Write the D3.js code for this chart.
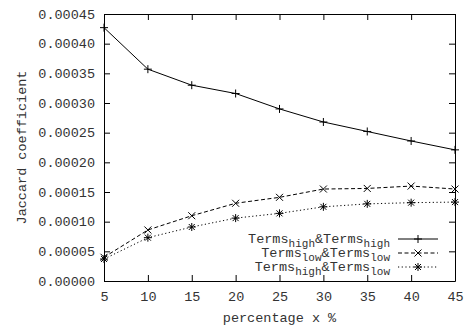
<!DOCTYPE html>
<html>
<head>
<meta charset="utf-8">
<script src="https://cdn.jsdelivr.net/npm/d3@7"></script>
<style>
  body { margin: 0; background: #fff; }
  svg text { font-family: "Liberation Mono", "DejaVu Sans Mono", monospace; fill: #333; }
</style>
</head>
<body>
<svg id="chart" width="468" height="326"></svg>
<script>
// data
const percentages = [5, 10, 15, 20, 25, 30, 35, 40, 45];
const highHigh = [0.000427, 0.000357, 0.000330, 0.000316, 0.000290, 0.000268, 0.000252, 0.000236, 0.000221];
const lowLow   = [0.000040, 0.000086, 0.000110, 0.000131, 0.000141, 0.000155, 0.000156, 0.000160, 0.000155];
const highLow  = [0.000037, 0.000073, 0.000091, 0.000106, 0.000114, 0.000125, 0.000130, 0.000132, 0.000133];
const yTicks = [0, 0.00005, 0.0001, 0.00015, 0.0002, 0.00025, 0.0003, 0.00035, 0.0004, 0.00045];
const seriesNames = [
  ["high", "high"],
  ["low", "low"],
  ["high", "low"]
];

const margin = { left: 104, right: 13, top: 14, bottom: 45 };
const W = 468, H = 326;

const svg = d3.select("#chart");

let x = d3.scaleLinear()
  .domain([5, 45])
  .range([margin.left, W - margin.right]);
let y = d3.scaleLinear()
  .domain([0, 0.00045])
  .range([H - margin.bottom, margin.top]);

const fmt = d3.format(".5f");

// axes, ticks pointing inward like gnuplot
svg.append("g")
  .attr("transform", `translate(0,${y(0)})`)
  .call(d3.axisBottom(x).tickValues(percentages).tickSizeInner(-6).tickSizeOuter(0).tickPadding(10))
  .call(g => g.selectAll("text").style("font-size", "13.5px"));
svg.append("g")
  .attr("transform", `translate(0,${y(0.00045)})`)
  .call(d3.axisTop(x).tickValues(percentages).tickSizeInner(-6).tickSizeOuter(0).tickFormat(""));
svg.append("g")
  .attr("transform", `translate(${x(5)},0)`)
  .call(d3.axisLeft(y).tickValues(yTicks).tickFormat(fmt).tickSizeInner(-6).tickSizeOuter(0).tickPadding(9))
  .call(g => g.selectAll("text").style("font-size", "13.5px"));
svg.append("g")
  .attr("transform", `translate(${x(45)},0)`)
  .call(d3.axisRight(y).tickValues(yTicks).tickSizeInner(-6).tickSizeOuter(0).tickFormat(""));
svg.selectAll(".domain").attr("stroke", "#000");
svg.selectAll(".tick line").attr("stroke", "#000");

// axis titles
svg.append("text")
  .attr("transform", `translate(26,${(y(0) + y(0.00045)) / 2}) rotate(-90)`)
  .attr("text-anchor", "middle")
  .style("font-size", "13.5px")
  .text("Jaccard coefficient");
svg.append("text")
  .attr("x", (x(5) + x(45)) / 2)
  .attr("y", 322)
  .attr("text-anchor", "middle")
  .style("font-size", "13.5px")
  .text("percentage x %");

const line = d3.line()
  .x((d, i) => x(percentages[i]))
  .y(d => y(d));

const styles = [
  { data: highHigh, dash: null, marker: "plus" },
  { data: lowLow, dash: "4,2.5", marker: "cross" },
  { data: highLow, dash: "1.2,2.5", marker: "star" }
];

function drawMarker(g, type, cx, cy) {
  const s = 4;
  const p = d3.path();
  if (type === "plus" || type === "star") {
    p.moveTo(cx - s, cy); p.lineTo(cx + s, cy);
    p.moveTo(cx, cy - s); p.lineTo(cx, cy + s);
  }
  if (type === "cross" || type === "star") {
    const t = type === "star" ? 3 : 3.5;
    p.moveTo(cx - t, cy - t); p.lineTo(cx + t, cy + t);
    p.moveTo(cx - t, cy + t); p.lineTo(cx + t, cy - t);
  }
  g.append("path").attr("d", p.toString())
    .attr("stroke", "#000").attr("stroke-width", 1).attr("fill", "none");
}

styles.forEach(st => {
  svg.append("path")
    .datum(st.data)
    .attr("d", line)
    .attr("fill", "none")
    .attr("stroke", "#000")
    .attr("stroke-width", 1)
    .attr("stroke-dasharray", st.dash);
  const mg = svg.append("g");
  st.data.forEach((v, i) => drawMarker(mg, st.marker, x(percentages[i]), y(v)));
});

// legend
const legend = svg.append("g");
const rowY = [239, 253, 267];
styles.forEach((st, i) => {
  const t = legend.append("text")
    .attr("x", 390)
    .attr("y", rowY[i] + 4)
    .attr("text-anchor", "end")
    .style("font-size", "13.5px");
  t.append("tspan").text("Terms");
  t.append("tspan").attr("dy", 4).style("font-size", "11px").text(seriesNames[i][0]);
  t.append("tspan").attr("dy", -4).text("&Terms");
  t.append("tspan").attr("dy", 4).style("font-size", "11px").text(seriesNames[i][1]);
  legend.append("line")
    .attr("x1", 398).attr("x2", 438)
    .attr("y1", rowY[i]).attr("y2", rowY[i])
    .attr("stroke", "#000")
    .attr("stroke-width", 1)
    .attr("stroke-dasharray", st.dash);
  drawMarker(legend, st.marker, 418, rowY[i]);
});
</script>
</body>
</html>
